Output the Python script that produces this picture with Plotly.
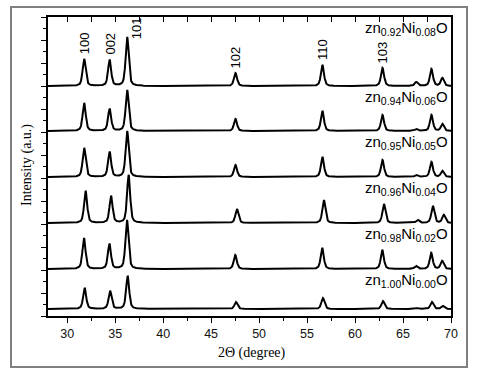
import numpy as np
import plotly.graph_objects as go

# ---- data ----
peak_positions = [31.77, 34.42, 36.25, 44.6, 47.54, 56.60, 62.86, 66.38, 67.96, 69.10]
hkl_labels = ["100", "002", "101", "", "102", "110", "103", "", "", ""]

sample_labels = [
    "zn<sub>0.92</sub>Ni<sub>0.08</sub>O",
    "zn<sub>0.94</sub>Ni<sub>0.06</sub>O",
    "zn<sub>0.95</sub>Ni<sub>0.05</sub>O",
    "zn<sub>0.96</sub>Ni<sub>0.04</sub>O",
    "zn<sub>0.98</sub>Ni<sub>0.02</sub>O",
    "zn<sub>1.00</sub>Ni<sub>0.00</sub>O",
]

# peak heights (a.u.) per sample, same order as peak_positions
heights_008 = [2700, 2600, 4900, 70, 1300, 2100, 1800, 400, 1700, 800]
heights_006 = [2800, 2200, 4100, 70, 1200, 2000, 1600, 200, 1600, 700]
heights_005 = [2900, 2500, 4600, 70, 1200, 2000, 1700, 200, 1500, 600]
heights_004 = [3200, 2700, 4800, 70, 1400, 2300, 1900, 300, 1700, 800]
heights_002 = [3100, 2500, 4900, 70, 1400, 2100, 1900, 300, 1600, 800]
heights_000 = [2100, 1800, 3300, 50, 700, 1100, 800, 100, 700, 300]
all_heights = [heights_008, heights_006, heights_005, heights_004, heights_002, heights_000]

peak_shift = [0.0, 0.0, 0.0, 0.15, -0.02, 0.05]   # deg, per sample
peak_fwhm = 0.38

# stacking offsets (a.u.) and panel tops
offsets = [23000, 18500, 13900, 9300, 4700, 700]
panel_tops = [29900, 23000, 18500, 13900, 9300, 4700]

x_tick_vals = [30, 35, 40, 45, 50, 55, 60, 65, 70]

# ---- build profiles ----
x = np.arange(28.0, 70.0001, 0.02)


def profile(heights, shift):
    y = np.zeros_like(x)
    hw = peak_fwhm / 2.0
    for p, h in zip(peak_positions, heights):
        d = (x - (p + shift)) / hw
        lor = 1.0 / (1.0 + d * d)
        gau = np.exp(-np.log(2) * d * d)
        y += h * (0.5 * lor + 0.5 * gau)
    return y


fig = go.Figure()
for hts, sh, off in zip(all_heights, peak_shift, offsets):
    fig.add_trace(go.Scatter(x=x, y=profile(hts, sh) + off, mode="lines",
                             line=dict(color="black", width=2), hoverinfo="skip"))

# invisible trace to activate the top axis
fig.add_trace(go.Scatter(x=[28, 70], y=[0, 0], xaxis="x2", yaxis="y",
                         mode="lines", line=dict(width=0), showlegend=False, hoverinfo="skip"))

sans = "Liberation Sans, Arial, sans-serif"
serif = "Liberation Serif, Times New Roman, serif"

fig.update_layout(
    width=483, height=384,
    margin=dict(l=48, r=32, t=17, b=68),
    plot_bgcolor="white", paper_bgcolor="white",
    showlegend=False,
    xaxis=dict(range=[28, 70], tickvals=x_tick_vals, ticks="outside", ticklen=5,
               tickwidth=1.2, tickcolor="black", showline=True, linecolor="black",
               linewidth=1.5, showgrid=False, zeroline=False,
               minor=dict(dtick=2.5, tick0=27.5, ticks="outside", ticklen=3,
                          tickcolor="black", tickwidth=1.2),
               tickfont=dict(family=sans, size=12.5, color="#111")),
    xaxis2=dict(range=[28, 70], overlaying="x", side="top", anchor="y",
                tick0=30, dtick=2.5, ticks="inside", ticklen=5, tickwidth=1.2,
                tickcolor="black", showline=True, linecolor="black", linewidth=1.5,
                showticklabels=False, showgrid=False, zeroline=False),
    yaxis=dict(range=[0, 29900], tick0=0, dtick=2300, ticks="outside", ticklen=5,
               tickwidth=1.2, tickcolor="black", showline=True, mirror=True,
               linecolor="black", linewidth=1.5, showticklabels=False,
               showgrid=False, zeroline=False,
               minor=dict(dtick=1150, tick0=0, ticks="outside", ticklen=3,
                          tickcolor="black", tickwidth=1.2)),
)

# outer frame
fig.add_shape(type="rect", xref="paper", yref="paper",
              x0=(11 - 48) / 403, x1=(467 - 48) / 403,
              y0=(316 - 367) / 299, y1=(316 - 7) / 299,
              line=dict(color="#808080", width=2), layer="below")

# sample labels
for lab, top in zip(sample_labels, panel_tops):
    fig.add_annotation(text=lab, xref="paper", x=0.995, xanchor="right",
                       yref="y", y=top, yanchor="top", yshift=-1, showarrow=False,
                       borderpad=0,
                       font=dict(family=sans, size=15, color="black"))

# hkl labels over the top pattern
for p, h, lab in zip(peak_positions, heights_008, hkl_labels):
    if not lab:
        continue
    if lab == "101":
        fig.add_annotation(text=lab, x=p, y=offsets[0] + 4600, xref="x", yref="y",
                           xshift=9, xanchor="center", yanchor="bottom", textangle=-90,
                           showarrow=False, borderpad=0,
                           font=dict(family=sans, size=13, color="black"))
    else:
        fig.add_annotation(text=lab, x=p, y=offsets[0] + h + 400, xref="x", yref="y",
                           xanchor="center", yanchor="bottom", textangle=-90,
                           showarrow=False, borderpad=0,
                           font=dict(family=sans, size=13, color="black"))

# axis titles
fig.add_annotation(text="Intensity (a.u.)", xref="paper", yref="paper",
                   x=(27 - 48) / 403, y=(316 - 165) / 299, textangle=-90,
                   xanchor="center", yanchor="middle",
                   showarrow=False, font=dict(family=serif, size=14, color="black"))
fig.add_annotation(text="2\u0398 (degree)", xref="paper", yref="paper",
                   x=(252 - 48) / 403, y=(316 - 353) / 299,
                   xanchor="center", yanchor="middle",
                   showarrow=False, font=dict(family=serif, size=14, color="black"))

fig.write_html("out.html", config={"displayModeBar": False},
               post_script="document.body.style.margin='0';document.body.style.overflow='hidden';")
